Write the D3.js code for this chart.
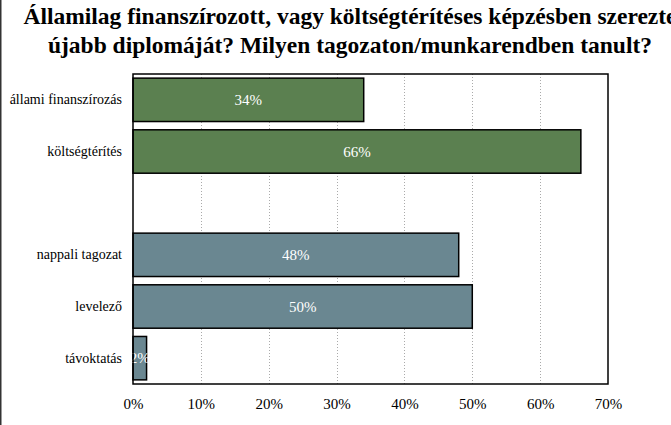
<!DOCTYPE html>
<html><head><meta charset="utf-8">
<script src="https://cdn.jsdelivr.net/npm/d3@7"></script>
<style>body{margin:0;background:#fff}svg{display:block}
svg text{font-family:'Liberation Serif','Times New Roman','DejaVu Serif',serif !important}</style>
</head><body>
<svg id="c" width="671" height="425"></svg>
<script>
const categories = ["állami finanszírozás","költségtérítés","","nappali tagozat","levelező","távoktatás"];
const values = [34,66,null,48,50,2];
const groups = ["a","a",null,"b","b","b"];
const tickValues = [0,10,20,30,40,50,60,70];
const titleLines = ["Államilag finanszírozott, vagy költségtérítéses képzésben szerezte","újabb diplomáját? Milyen tagozaton/munkarendben tanult?"];
const colors = {a:"#5b8050", b:"#6a8791"};

const svg = d3.select("#c");
const m = {l:133, r:608, t:74, b:384};
const x = d3.scaleLinear().domain([0,70]).range([m.l,m.r]);
const y = d3.scaleBand().domain(d3.range(categories.length)).range([m.t,m.b]).paddingInner(0.16).paddingOuter(0.08);

svg.append("line").attr("x1",0.75).attr("x2",0.75).attr("y1",0).attr("y2",425).attr("stroke","#333").attr("stroke-width",1.5);

const tg = svg.append("g").attr("font-weight","bold").attr("font-size",23.5).attr("text-anchor","middle").attr("fill","#000");
titleLines.forEach((t,i)=>tg.append("text").attr("x",350).attr("y",24+i*29).text(t));

// grid
svg.append("g").selectAll("line").data(tickValues.slice(1,-1)).join("line")
  .attr("x1",d=>Math.round(x(d))+0.5).attr("x2",d=>Math.round(x(d))+0.5)
  .attr("y1",m.t).attr("y2",m.b).attr("stroke","#aaa").attr("stroke-dasharray","1,2");

// bars
const idx = d3.range(categories.length).filter(i=>values[i]!=null);
svg.append("g").selectAll("rect").data(idx).join("rect")
  .attr("x",x(0)).attr("y",i=>y(i)).attr("width",i=>x(values[i])-x(0)).attr("height",y.bandwidth())
  .attr("fill",i=>colors[groups[i]]).attr("stroke","#000").attr("stroke-width",1.5);

// value labels
svg.append("g").selectAll("text").data(idx).join("text")
  .attr("x",i=>(x(0)+x(values[i]))/2).attr("y",i=>y(i)+y.bandwidth()/2+5)
  .attr("text-anchor","middle").attr("fill","#fff").attr("font-size",15)
  .text(i=>values[i]+"%");

// frame
svg.append("rect").attr("x",m.l).attr("y",m.t).attr("width",m.r-m.l).attr("height",m.b-m.t)
  .attr("fill","none").attr("stroke","#000").attr("stroke-width",1.5);

// category labels
const ya = d3.axisLeft(y).tickSize(0).tickPadding(11).tickFormat(i=>categories[i]);
const gy = svg.append("g").attr("transform",`translate(${m.l},0)`).call(ya);
gy.select(".domain").remove();
gy.selectAll("text").attr("font-size",14).attr("fill","#000");
gy.attr("font-size",null).attr("font-family",null);

// x axis
const xa = d3.axisBottom(x).tickValues(tickValues).tickSize(0).tickPadding(14).tickFormat(d=>d+"%");
const gx = svg.append("g").attr("transform",`translate(0,${m.b})`).call(xa);
gx.select(".domain").remove();
gx.selectAll("text").attr("font-size",15).attr("fill","#000");
gx.attr("font-size",null).attr("font-family",null);
</script>
</body></html>
